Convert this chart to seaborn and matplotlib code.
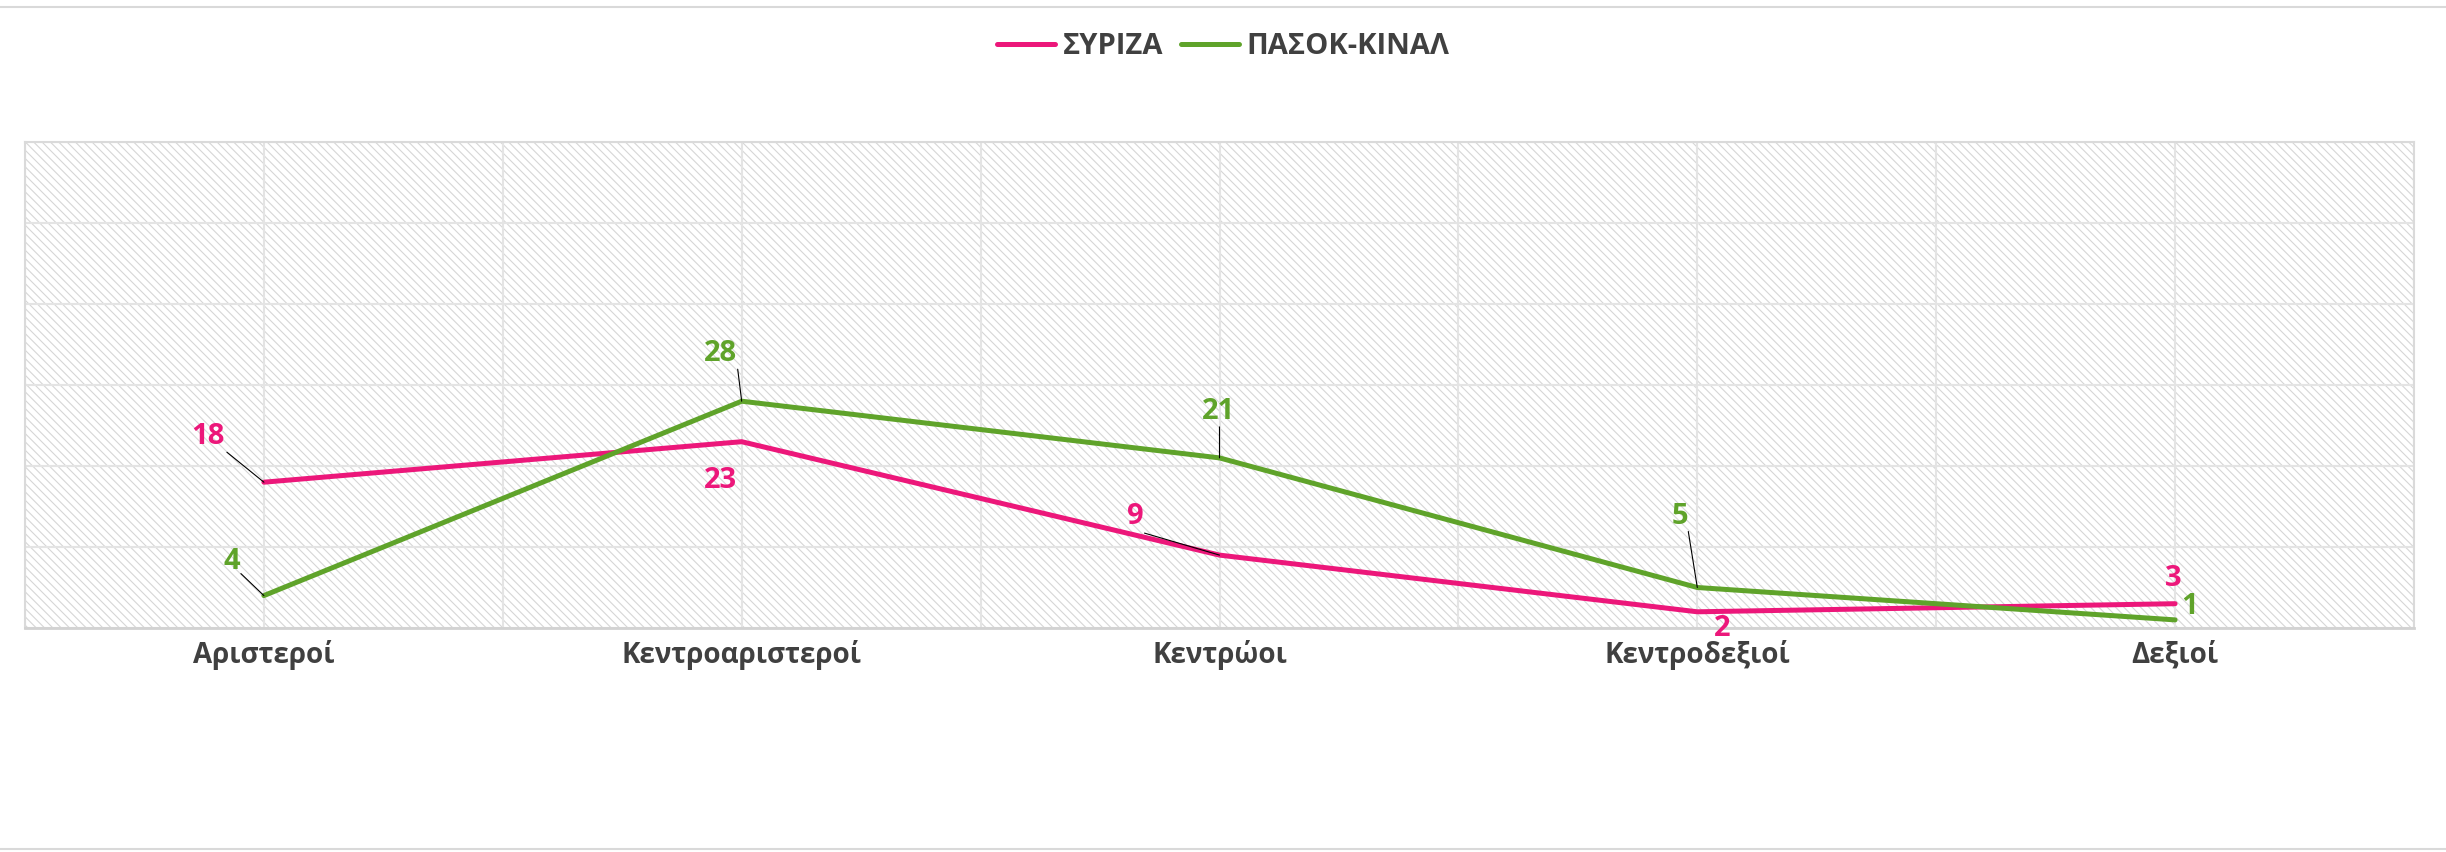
import matplotlib
matplotlib.use("Agg")
import matplotlib.pyplot as plt
from matplotlib.lines import Line2D
from matplotlib.patches import Rectangle
import numpy as np
import pandas as pd
import seaborn as sns

# ---- data -------------------------------------------------------------
categories = ["Αριστεροί", "Κεντροαριστεροί", "Κεντρώοι", "Κεντροδεξιοί", "Δεξιοί"]
series_names = ["ΣΥΡΙΖΑ", "ΠΑΣΟΚ-ΚΙΝΑΛ"]
syriza = [18, 23, 9, 2, 3]
pasok = [4, 28, 21, 5, 1]

colors = {"ΣΥΡΙΖΑ": "#EC177A", "ΠΑΣΟΚ-ΚΙΝΑΛ": "#5FA32A"}
text_color = "#404040"

# label placement: (label dx, label dy, leader start dx/dy or None), pixels
label_pos = {
    "ΣΥΡΙΖΑ": [(-56, 49, (-37, 30)), (-21, -35, None), (-84, 42, (-75, 22)),
               (25, -13, None), (-2, 29, None)],
    "ΠΑΣΟΚ-ΚΙΝΑΛ": [(-32, 38, (-23, 22)), (-21, 51, (-4, 32)), (-1, 50, (0, 31)),
                    (-17, 74, (-9, 56)), (14, 17, None)],
}

df = pd.DataFrame({
    "pos": list(range(len(categories))) * 2,
    "value": syriza + pasok,
    "party": [series_names[0]] * len(categories) + [series_names[1]] * len(categories),
})

# ---- style ------------------------------------------------------------
sns.set_theme(style="white")
plt.rcParams["font.family"] = ["Open Sans", "DejaVu Sans"]
plt.rcParams["hatch.linewidth"] = 0.8

W, H, DPI = 2446, 852, 100
fig = plt.figure(figsize=(W / DPI, H / DPI), dpi=DPI)
fig.patch.set_facecolor("white")

left, right, top, bottom = 25, 2414, 142, 628
ax = fig.add_axes([left / W, 1 - bottom / H, (right - left) / W, (bottom - top) / H])
ax.set_facecolor("white")

# diagonal hatched plot background
ax.add_patch(Rectangle((0, 0), 1, 1, transform=ax.transAxes, facecolor="white",
                       edgecolor="#d6d6d6", linewidth=0, hatch="\\\\\\\\", zorder=0.1))

sns.lineplot(data=df, x="pos", y="value", hue="party", hue_order=series_names,
             palette=colors, linewidth=3.6, legend=False, sort=False, ax=ax, zorder=3)

ax.set_xlim(-0.5, len(categories) - 0.5)
ax.set_ylim(0, 60)
ax.set_xticks(range(len(categories)))
ax.set_xticks(np.arange(-0.5, len(categories), 1.0), minor=True)
ax.set_xticklabels(categories, fontsize=20, fontweight="bold", color=text_color)
ax.set_yticks(range(0, 61, 10))
ax.set_yticklabels([])
ax.set_xlabel("")
ax.set_ylabel("")
ax.tick_params(axis="both", which="both", length=0)
ax.tick_params(axis="x", pad=9)
ax.set_axisbelow(True)
ax.grid(True, which="major", color="#e4e4e4", linewidth=1.5, zorder=0.5)
ax.grid(True, which="minor", axis="x", color="#e4e4e4", linewidth=1.5, zorder=0.5)
for side, sp in ax.spines.items():
    sp.set_color("#dadada")
    sp.set_linewidth(1.5)
    sp.set_visible(True)
ax.spines["bottom"].set_color("#d2d2d2")
ax.spines["bottom"].set_linewidth(2)

# ---- value labels with leader lines ------------------------------------
digit_half = 11  # half the digit height, pixels
for name, vals in zip(series_names, [syriza, pasok]):
    for i, v in enumerate(vals):
        dx, dy, lead = label_pos[name][i]
        if lead is not None:
            ax.annotate("", xy=(i, v), xytext=lead, textcoords="offset pixels",
                        arrowprops=dict(arrowstyle="-", color="black", lw=0.8,
                                        shrinkA=0, shrinkB=0), zorder=4)
        ax.annotate(str(v), xy=(i, v), xytext=(dx, dy - digit_half),
                    textcoords="offset pixels", ha="center", va="baseline",
                    fontsize=21, fontweight="bold", color=colors[name], zorder=5)

# ---- legend -----------------------------------------------------------
handles = [Line2D([0], [0], color=colors[n], linewidth=3.6, solid_capstyle="round")
           for n in series_names]
leg = fig.legend(handles, series_names, loc="center", bbox_to_anchor=(0.5, 1 - 47 / H),
                 ncol=2, frameon=False, handlelength=2.0,
                 handletextpad=0.25, columnspacing=0.6,
                 prop={"weight": "bold", "size": 21})
for t in leg.get_texts():
    t.set_color(text_color)

# thin frame lines at top and bottom of the card
fig.add_artist(Line2D([0, 1], [1 - 7 / H, 1 - 7 / H], color="#d9d9d9", linewidth=1.5,
                      transform=fig.transFigure))
fig.add_artist(Line2D([0, 1], [1 - 849 / H, 1 - 849 / H], color="#d9d9d9", linewidth=1.5,
                      transform=fig.transFigure))

fig.savefig("out.png", dpi=DPI, facecolor="white")
